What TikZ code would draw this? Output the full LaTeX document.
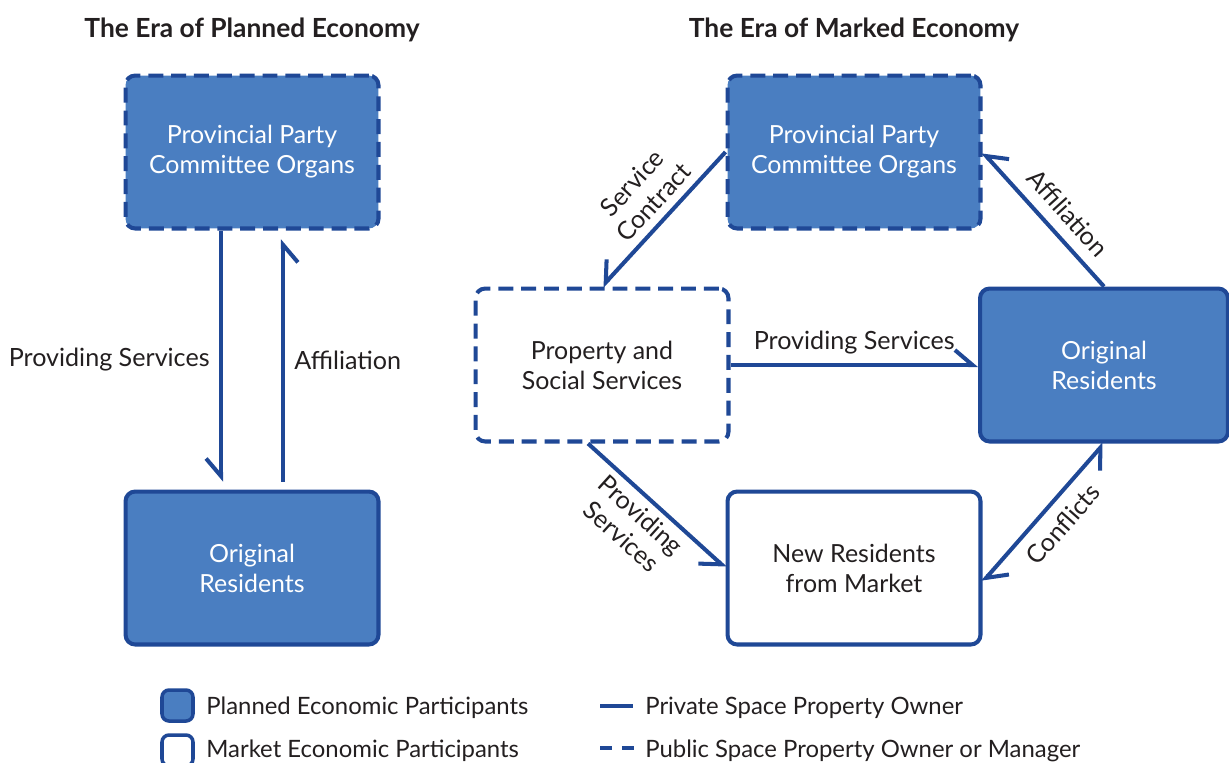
\documentclass[tikz,border=0pt]{standalone}
\usepackage{fontspec}
\setmainfont{Lato}
\usetikzlibrary{arrows.meta,calc}
\definecolor{partfill}{RGB}{74,126,193}
\definecolor{partline}{RGB}{31,72,150}
\definecolor{inktext}{RGB}{35,31,32}
\begin{document}
\begin{tikzpicture}[x=0.02cm,y=-0.02cm]
			\tikzstyle{actor}=[rectangle,draw=partline,line width=2.3pt,rounded corners=5.5pt,minimum width=5.06cm,minimum height=3.06cm,align=center,font=\fontsize{14.2}{17}\selectfont]
			\tikzstyle{planned}=[actor,fill=partfill,text=white]
			\tikzstyle{market}=[actor,fill=white,text=inktext]
			\tikzstyle{public}=[dash pattern=on 8.5pt off 4.5pt]
			\tikzstyle{link}=[draw=partline,line width=2.3pt]
			\tikzstyle{harp}=[link,-{Straight Barb[harpoon,length=10pt,width=17pt]}]
			\tikzstyle{harpsw}=[link,-{Straight Barb[harpoon,swap,length=10pt,width=17pt]}]
			\tikzstyle{lbl}=[text=inktext,font=\fontsize{14.3}{16.5}\selectfont,align=center]
			\tikzstyle{legtext}=[text=inktext,font=\fontsize{13.6}{16}\selectfont,anchor=base west,inner sep=0pt]
			\useasboundingbox (0,0) rectangle (1229,762);
			% titles
			\node[text=inktext,font=\fontsize{15}{18}\selectfont\bfseries,anchor=base] (titleA) at (252,37) {The Era of Planned Economy};
			\node[text=inktext,font=\fontsize{15}{18}\selectfont\bfseries,anchor=base] (titleB) at (854,37) {The Era of Marked Economy};
			% planned economy
			\node[planned,public] (ppA) at (252,152) {Provincial Party\\Committee Organs};
			\node[planned] (orA) at (252,568) {Original\\Residents};
			\draw[harpsw,shorten >=4.5pt] ($(ppA.south)+(-31,0)$) -- ($(orA.north)+(-31,0)$) node[lbl,midway,left=2pt] {Providing Services};
			\draw[harpsw,shorten <=4.5pt,shorten >=5pt] ($(orA.north)+(31,0)$) -- ($(ppA.south)+(31,0)$) node[lbl,midway,right=2pt] {Affiliation};
			% market economy
			\node[planned,public] (ppB) at (854,152) {Provincial Party\\Committee Organs};
			\node[market,public] (psB) at (602,365) {Property and\\Social Services};
			\node[planned,minimum width=4.96cm] (orB) at (1104,365) {Original\\Residents};
			\node[market] (nrB) at (854,568) {New Residents\\from Market};
			\draw[harpsw] (ppB.west) -- (psB.north) node[lbl,pos=0.47,sloped,above=1pt] {Service\\Contract};
			\draw[harpsw] (orB.north) -- (ppB.east) node[lbl,pos=0.435,sloped,above=3pt] {Affiliation};
			\draw[harp] (psB.east) -- (orB.west) node[lbl,midway,above=2pt] {Providing Services};
			\draw[harpsw] ($(psB.south)+(-14,0)$) -- (nrB.west) node[lbl,pos=0.47,sloped,below] {Providing\\Services};
			\draw[link,{Straight Barb[harpoon,length=10pt,width=17pt]}-{Straight Barb[harpoon,swap,length=10pt,width=17pt]}] ($(nrB.east)+(0,14)$) -- (orB.south) node[lbl,pos=0.525,sloped,below=3pt] {Conflicts};
			% legend
			\node[planned,minimum width=0.62cm,minimum height=0.62cm,line width=2pt,rounded corners=4pt] (legP) at (177.5,705.5) {};
			\node[market,minimum width=0.62cm,minimum height=0.62cm,line width=2pt,rounded corners=4pt] (legM) at (177.5,750.5) {};
			\node[legtext] (legPt) at (206,714) {Planned Economic Participants};
			\node[legtext] (legMt) at (206,757) {Market Economic Participants};
			\draw[link] (600,706) -- (633,706);
			\draw[link,dash pattern=on 6.8pt off 5.7pt] (600,748) -- (634,748);
			\node[legtext] (legS) at (645,714) {Private Space Property Owner};
			\node[legtext] (legD) at (645,757) {Public Space Property Owner or Manager};
\end{tikzpicture}
\end{document}
